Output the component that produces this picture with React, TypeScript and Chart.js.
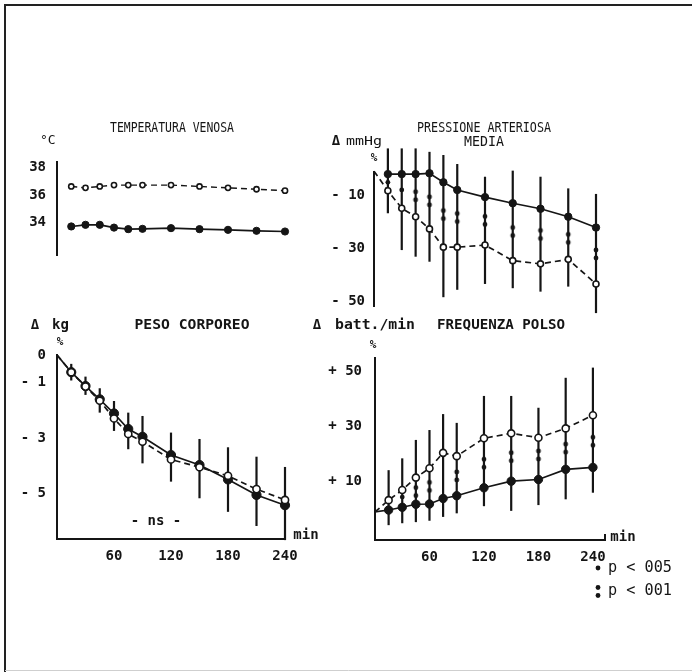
import React, { useEffect, useRef } from "react";
import { Chart, registerables } from "chart.js";
Chart.register(...registerables);

const INK = "#151515";
const MONO = "'DejaVu Sans Mono', monospace";
const W = 692;
const H = 672;

// ---------- shared sampling times (min) ----------
const TIMES = [15, 30, 45, 60, 75, 90, 120, 150, 180, 210, 240];
const X_TICKS = [60, 120, 180, 240];

// ---------- TEMPERATURA VENOSA (°C) ----------
const TEMP_OPEN = [36.6, 36.5, 36.6, 36.7, 36.7, 36.7, 36.7, 36.6, 36.5, 36.4, 36.3];
const TEMP_FILLED = [33.74, 33.86, 33.86, 33.66, 33.55, 33.57, 33.62, 33.55, 33.5, 33.43, 33.38];
const TEMP_TICKS = [34, 36, 38];

// ---------- PRESSIONE ARTERIOSA MEDIA (Δ %) ----------
const PAM_FILLED = [-2.1, -2.1, -2.1, -1.8, -5.2, -8.1, -10.8, -13.1, -15.2, -18.2, -22.3];
const PAM_FILLED_SD = [9.7, 9.7, 9.7, 8.1, 10.3, 9.8, 7.7, 12.3, 12.1, 10.7, 12.7];
const PAM_OPEN_START = -1;
const PAM_OPEN = [-8.4, -15.0, -18.2, -22.8, -29.7, -29.7, -28.9, -34.8, -36.0, -34.3, -43.6];
const PAM_OPEN_SD = [8.5, 15.8, 15.1, 12.4, 18.9, 16.1, 14.7, 10.4, 10.5, 10.3, 11.0];
const PAM_TICKS = [-10, -30, -50];
const PAM_P05_T = [15, 30];
const PAM_P05 = [-5.2, -8.1];
const PAM_P01_T = [45, 60, 75, 90, 120, 150, 180, 210, 240];
const PAM_P01 = [-10.3, -12.2, -17.4, -18.5, -19.6, -23.8, -24.9, -26.4, -32.3];

// ---------- PESO CORPOREO (Δ %) ----------
const PESO_START = 0;
const PESO_FILLED = [-0.62, -1.12, -1.6, -2.11, -2.67, -2.95, -3.61, -3.97, -4.49, -5.05, -5.42];
const PESO_OPEN = [-0.62, -1.14, -1.65, -2.29, -2.85, -3.13, -3.77, -4.05, -4.36, -4.84, -5.23];
const PESO_SD_UP = [0.3, 0.34, 0.4, 0.45, 0.59, 0.75, 0.81, 0.94, 1.16, 1.38, 1.38];
const PESO_SD_DOWN = [0.3, 0.32, 0.48, 0.63, 0.73, 0.96, 0.96, 1.2, 1.17, 1.12, 1.26];
const PESO_TICKS = [0, -1, -3, -5];

// ---------- FREQUENZA POLSO (Δ %) ----------
const FREQ_START = -1;
const FREQ_FILLED = [-0.3, 0.7, 1.8, 1.9, 3.9, 4.9, 7.8, 10.2, 10.8, 14.5, 15.2];
const FREQ_FILLED_SD = [5.5, 5.8, 6.5, 6.1, 6.7, 6.4, 6.7, 10.8, 9.3, 10.9, 9.2];
const FREQ_OPEN = [3.3, 7.0, 11.5, 14.9, 20.5, 19.3, 25.8, 27.6, 26.0, 29.4, 34.2];
const FREQ_OPEN_SD = [10.9, 11.5, 13.7, 13.9, 14.1, 12.1, 15.4, 13.6, 10.9, 18.4, 17.3];
const FREQ_TICKS = [10, 30, 50];
const FREQ_P05_T = [30];
const FREQ_P05 = [4.4];
const FREQ_P01_T = [45, 60, 90, 120, 150, 180, 210, 240];
const FREQ_P01 = [6.4, 8.3, 12.1, 16.7, 19.1, 19.7, 22.2, 24.7];

type TextItem = {
  t: string;
  x: number;
  y: number;
  size?: number;
  bold?: boolean;
  align?: "left" | "center" | "right";
  w?: number;
};

function textPlugin(items: TextItem[], extra?: (ctx: CanvasRenderingContext2D, chart: any) => void) {
  return {
    id: "pagetext",
    afterDraw(chart: any) {
      const ctx: CanvasRenderingContext2D = chart.ctx;
      ctx.save();
      ctx.fillStyle = INK;
      ctx.textBaseline = "middle";
      for (const it of items) {
        ctx.font = `${it.bold ? "bold " : ""}${it.size ?? 14}px ${MONO}`;
        const m = ctx.measureText(it.t).width;
        const sx = it.w ? it.w / m : 1;
        const dw = m * sx;
        const al = it.align ?? "center";
        const left = al === "center" ? it.x - dw / 2 : al === "right" ? it.x - dw : it.x;
        ctx.save();
        ctx.translate(left, it.y);
        ctx.scale(sx, 1);
        ctx.textAlign = "left";
        ctx.fillText(it.t, 0, 0);
        ctx.restore();
      }
      if (extra) extra(ctx, chart);
      ctx.restore();
    },
  };
}

const errorBars = {
  id: "errorbars",
  beforeDatasetsDraw(chart: any) {
    const { ctx, scales } = chart;
    const xs = scales.x;
    const ys = scales.y;
    const ext = new Map<number, { lo: number; hi: number; any: boolean }>();
    chart.data.datasets.forEach((ds: any) => {
      if (!ds.errUp && !ds.errDown) return;
      ds.data.forEach((p: any, j: number) => {
        const up = ds.errUp ? ds.errUp[j] || 0 : 0;
        const dn = ds.errDown ? ds.errDown[j] || 0 : 0;
        const e = ext.get(p.x) || { lo: Infinity, hi: -Infinity, any: false };
        e.lo = Math.min(e.lo, p.y - dn);
        e.hi = Math.max(e.hi, p.y + up);
        e.any = e.any || up > 0 || dn > 0;
        ext.set(p.x, e);
      });
    });
    ctx.save();
    ctx.strokeStyle = INK;
    ctx.lineWidth = 2.2;
    ext.forEach((e, x) => {
      if (!e.any) return;
      const px = xs.getPixelForValue(x);
      ctx.beginPath();
      ctx.moveTo(px, ys.getPixelForValue(e.hi));
      ctx.lineTo(px, ys.getPixelForValue(e.lo));
      ctx.stroke();
    });
    ctx.restore();
  },
};

function series(
  ys: number[],
  o: { open: boolean; r: number; start?: number; up?: number[]; down?: number[]; lw?: number }
) {
  let data = TIMES.map((x, i) => ({ x, y: ys[i] }));
  let up = o.up;
  let down = o.down;
  if (o.start !== undefined) {
    data = [{ x: 0, y: o.start }, ...data];
    if (up) up = [0, ...up];
    if (down) down = [0, ...down];
  }
  return {
    data,
    borderColor: INK,
    borderWidth: o.lw ?? 1.7,
    borderDash: o.open ? [6, 4] : [],
    pointRadius: (c: any) => (c.raw && c.raw.x === 0 ? 0 : o.r),
    pointBackgroundColor: o.open ? "#ffffff" : INK,
    pointBorderColor: INK,
    pointBorderWidth: o.open ? 1.6 : 1,
    pointStyle: "circle",
    tension: 0,
    fill: false,
    clip: false,
    errUp: up,
    errDown: down,
  };
}

function colonCanvas() {
  const r = 2.4;
  const gap = 8;
  const c = document.createElement("canvas");
  const w = 8;
  const h = 16;
  c.width = w;
  c.height = h;
  const ctx = c.getContext("2d")!;
  ctx.fillStyle = INK;
  [h / 2 - gap / 2, h / 2 + gap / 2].forEach((y) => {
    ctx.beginPath();
    ctx.arc(w / 2, y, r, 0, Math.PI * 2);
    ctx.fill();
  });
  return c;
}

function sig(ts: number[], vs: number[], style: any, r: number) {
  return {
    data: ts.map((x, i) => ({ x, y: vs[i] })),
    showLine: false,
    pointRadius: r,
    pointBackgroundColor: INK,
    pointBorderColor: INK,
    pointBorderWidth: 0,
    pointStyle: style,
    clip: false,
  };
}

type Panel = {
  area: { l: number; t: number; r: number; b: number };
  xMax: number;
  yMin: number;
  yMax: number;
  yTicks: number[];
  yFmt: (v: number) => string;
  yPad: number;
  showX: boolean;
  datasets: () => any[];
  texts: TextItem[];
  extra?: (ctx: CanvasRenderingContext2D, chart: any) => void;
};

const YW = 52;
const XH = 30;

const endTick = (ctx: CanvasRenderingContext2D, chart: any) => {
  const a = chart.chartArea;
  ctx.strokeStyle = INK;
  ctx.lineWidth = 2;
  ctx.beginPath();
  ctx.moveTo(a.right, a.bottom);
  ctx.lineTo(a.right, a.bottom - 6);
  ctx.stroke();
};

const PANELS: Panel[] = [
  {
    area: { l: 57, t: 162, r: 285, b: 255 },
    xMax: 240,
    yMin: 31.7,
    yMax: 38.35,
    yTicks: TEMP_TICKS,
    yFmt: (v) => String(v),
    yPad: 11,
    showX: false,
    datasets: () => [
      series(TEMP_OPEN, { open: true, r: 2.6, lw: 1.4 }),
      series(TEMP_FILLED, { open: false, r: 3.6, lw: 1.7 }),
    ],
    texts: [
      { t: "TEMPERATURA VENOSA", x: 172, y: 128, size: 14, w: 124 },
      { t: "°C", x: 40, y: 141, size: 13, align: "left" },
    ],
    extra: (ctx) => {
      ctx.strokeStyle = "#222";
      ctx.lineWidth = 2;
      ctx.beginPath();
      ctx.moveTo(5, H);
      ctx.lineTo(5, 5);
      ctx.lineTo(W, 5);
      ctx.stroke();
      ctx.strokeStyle = "#cfcfcf";
      ctx.lineWidth = 1;
      ctx.beginPath();
      ctx.moveTo(5, 670.5);
      ctx.lineTo(W, 670.5);
      ctx.stroke();
    },
  },
  {
    area: { l: 374, t: 171.7, r: 596, b: 307 },
    xMax: 240,
    yMin: -52.3,
    yMax: -1.2,
    yTicks: PAM_TICKS,
    yFmt: (v) => "- " + Math.abs(v),
    yPad: 9,
    showX: false,
    datasets: () => [
      series(PAM_OPEN, { open: true, r: 3, start: PAM_OPEN_START, down: PAM_OPEN_SD }),
      series(PAM_FILLED, { open: false, r: 3.7, up: PAM_FILLED_SD }),
      sig(PAM_P05_T, PAM_P05, "circle", 2.4),
      sig(PAM_P01_T, PAM_P01, colonCanvas(), 4),
    ],
    texts: [
      { t: "PRESSIONE ARTERIOSA", x: 484, y: 128, size: 14, w: 134 },
      { t: "MEDIA", x: 484, y: 142, size: 14, w: 40 },
      { t: "Δ", x: 336, y: 141, size: 14, bold: true },
      { t: "mmHg", x: 346, y: 142, size: 12, align: "left", w: 36 },
      { t: "%", x: 374, y: 158, size: 11, bold: true },
    ],
  },
  {
    area: { l: 57, t: 355, r: 285, b: 539 },
    xMax: 240,
    yMin: -6.64,
    yMax: 0,
    yTicks: PESO_TICKS,
    yFmt: (v) => (v === 0 ? "0" : "- " + Math.abs(v)),
    yPad: 11,
    showX: true,
    datasets: () => [
      series(PESO_OPEN, { open: true, r: 3.6, start: PESO_START }),
      series(PESO_FILLED, { open: false, r: 4.6, start: PESO_START, up: PESO_SD_UP, down: PESO_SD_DOWN }),
    ],
    texts: [
      { t: "Δ", x: 35, y: 325, size: 14, bold: true },
      { t: "kg", x: 52, y: 325, size: 14, align: "left", bold: true },
      { t: "PESO CORPOREO", x: 192, y: 325, size: 14, w: 115, bold: true },
      { t: "%", x: 60, y: 342, size: 11, bold: true },
      { t: "min", x: 306, y: 535, size: 14, bold: true },
      { t: "- ns -", x: 156, y: 521, size: 14, bold: true },
    ],
    extra: endTick,
  },
  {
    area: { l: 375, t: 358, r: 605, b: 540 },
    xMax: 253.3,
    yMin: -11.2,
    yMax: 55,
    yTicks: FREQ_TICKS,
    yFmt: (v) => "+ " + v,
    yPad: 13,
    showX: true,
    datasets: () => [
      series(FREQ_OPEN, { open: true, r: 3.5, start: FREQ_START, up: FREQ_OPEN_SD }),
      series(FREQ_FILLED, { open: false, r: 4.2, start: FREQ_START, down: FREQ_FILLED_SD }),
      sig(FREQ_P05_T, FREQ_P05, "circle", 2.4),
      sig(FREQ_P01_T, FREQ_P01, colonCanvas(), 4),
    ],
    texts: [
      { t: "Δ", x: 317, y: 325, size: 14, bold: true },
      { t: "batt./min", x: 335, y: 325, size: 14, align: "left", w: 80, bold: true },
      { t: "FREQUENZA POLSO", x: 501, y: 325, size: 14, w: 128, bold: true },
      { t: "%", x: 373, y: 345, size: 11, bold: true },
      { t: "min", x: 623, y: 537, size: 14, bold: true },
      { t: "p < 005", x: 608, y: 568, size: 15, align: "left", w: 64 },
      { t: "p < 001", x: 608, y: 591, size: 15, align: "left", w: 64 },
    ],
    extra: (ctx, chart) => {
      endTick(ctx, chart);
      ctx.fillStyle = INK;
      [568, 587.5, 595.5].forEach((y) => {
        ctx.beginPath();
        ctx.arc(598, y, 2.4, 0, Math.PI * 2);
        ctx.fill();
      });
    },
  },
];

function buildConfig(p: Panel): any {
  const tickFont = { family: MONO, size: 14, weight: "bold" as const };
  return {
    type: "line",
    data: { datasets: p.datasets() },
    options: {
      responsive: false,
      animation: false,
      events: [],
      layout: {
        padding: {
          left: p.area.l - YW,
          top: p.area.t,
          right: W - p.area.r,
          bottom: H - p.area.b - (p.showX ? XH : 0),
        },
      },
      plugins: { legend: { display: false }, tooltip: { enabled: false }, title: { display: false } },
      scales: {
        x: {
          type: "linear",
          min: 0,
          max: p.xMax,
          display: p.showX,
          afterBuildTicks: (s: any) => {
            s.ticks = X_TICKS.map((v) => ({ value: v }));
          },
          afterFit: (s: any) => {
            if (p.showX) s.height = XH;
            s.paddingLeft = 0;
            s.paddingRight = 0;
          },
          grid: { display: false, drawTicks: false },
          border: { display: true, color: INK, width: 2 },
          ticks: { padding: 9, color: INK, font: tickFont, maxRotation: 0, autoSkip: false },
        },
        y: {
          type: "linear",
          min: p.yMin,
          max: p.yMax,
          position: "left",
          afterBuildTicks: (s: any) => {
            s.ticks = p.yTicks.map((v) => ({ value: v }));
          },
          afterFit: (s: any) => {
            s.width = YW;
            s.paddingTop = 0;
            s.paddingBottom = 0;
          },
          grid: { display: false, drawTicks: false },
          border: { display: true, color: INK, width: 2 },
          ticks: {
            padding: p.yPad,
            color: INK,
            font: tickFont,
            autoSkip: false,
            callback: (v: number) => p.yFmt(v),
          },
        },
      },
    },
    plugins: [errorBars, textPlugin(p.texts, p.extra)],
  };
}

function PanelCanvas({ spec }: { spec: Panel }) {
  const ref = useRef<HTMLCanvasElement>(null);
  useEffect(() => {
    const chart = new Chart(ref.current as HTMLCanvasElement, buildConfig(spec));
    return () => chart.destroy();
  }, [spec]);
  return (
    <canvas
      ref={ref}
      width={W}
      height={H}
      style={{ position: "absolute", left: 0, top: 0, width: W, height: H }}
    />
  );
}

export default function App() {
  return (
    <div
      style={{
        position: "absolute",
        left: 0,
        top: 0,
        width: W,
        height: H,
        background: "#ffffff",
        overflow: "hidden",
      }}
    >
      {PANELS.map((p, i) => (
        <PanelCanvas key={i} spec={p} />
      ))}
    </div>
  );
}
